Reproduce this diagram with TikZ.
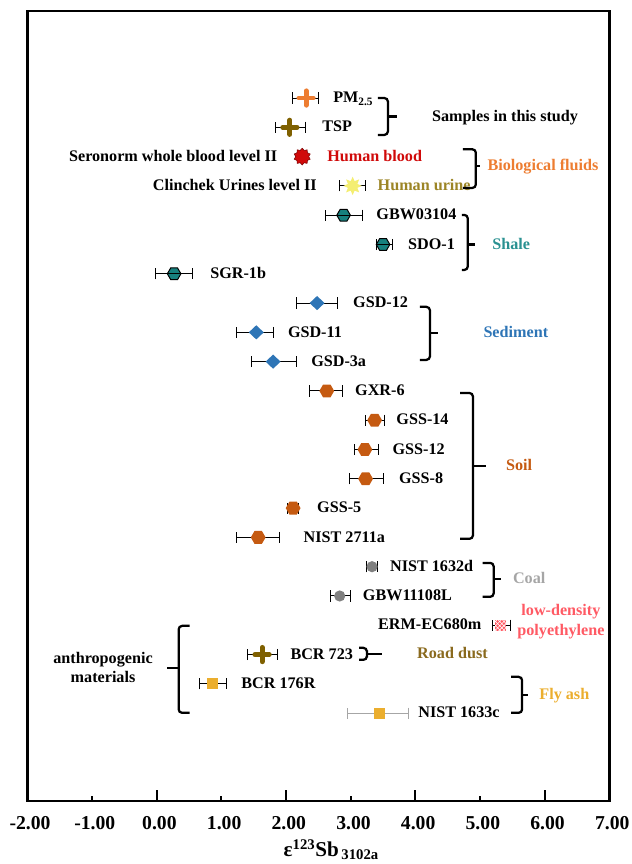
\documentclass[tikz,border=0pt]{standalone}
\usepackage{fontspec}
\setmainfont{Liberation Serif}
\usepackage{tikz}
\usetikzlibrary{arrows.meta,positioning,shapes.geometric,shapes.misc,patterns}
\usepackage{xcolor}

\definecolor{pmorange}{HTML}{ED7D31}
\definecolor{tspbrown}{HTML}{7F6000}
\definecolor{bloodred}{HTML}{D00A0A}
\definecolor{urineyellow}{HTML}{F4EE72}
\definecolor{urinetext}{HTML}{9C8526}
\definecolor{shaleteal}{HTML}{17807E}
\definecolor{shaletext}{HTML}{2A9191}
\definecolor{sedblue}{HTML}{2E75B6}
\definecolor{soilbrown}{HTML}{C55A11}
\definecolor{coalgray}{HTML}{808080}
\definecolor{coaltext}{HTML}{A6A6A6}
\definecolor{ldpered}{HTML}{FF5A64}
\definecolor{roadtext}{HTML}{8A6A1E}
\definecolor{flygold}{HTML}{EBAE2E}

\tikzset{
  errbar/.style={line width=0.7pt, arrows={Bar[width=0.28cm]-Bar[width=0.28cm]}},
  grpbrace/.style={line width=1.6pt, rounded corners=2.5pt},
  smplabel/.style={font=\bfseries\fontsize{11.5}{13.8}\selectfont, inner sep=0pt,
    text height=1.45ex, text depth=0pt},
  grplabel/.style={smplabel},
  twoline/.style={font=\bfseries\fontsize{11.5}{13.8}\selectfont, inner sep=0pt, align=center},
  ticklbl/.style={font=\bfseries\fontsize{14}{16}\selectfont, inner sep=0pt},
  % markers
  mkplus/.style={cross out, draw, rotate=45, minimum size=0.13cm, inner sep=0pt,
    line width=3.5pt, line cap=round},
  mkpm/.style={mkplus, draw=pmorange},
  mktsp/.style={mkplus, draw=tspbrown},
  mkblood/.style={star, star points=10, star point ratio=1.3, minimum size=0.42cm,
    inner sep=0pt, fill=bloodred, draw=bloodred!60!black, line width=0.4pt},
  mkurine/.style={star, star points=8, star point ratio=1.8, minimum size=0.46cm,
    inner sep=0pt, fill=urineyellow},
  mkshale/.style={regular polygon, regular polygon sides=6, minimum size=0.34cm,
    inner sep=0pt, fill=shaleteal, draw=black, line width=0.7pt,
    path picture={\draw[line width=0.7pt] (path picture bounding box.west) -- (path picture bounding box.east);}},
  mksed/.style={diamond, minimum width=0.38cm, minimum height=0.36cm, inner sep=0pt, fill=sedblue},
  mksoil/.style={regular polygon, regular polygon sides=6, minimum size=0.37cm,
    inner sep=0pt, fill=soilbrown},
  mkcoal/.style={circle, minimum size=0.28cm, inner sep=0pt, fill=coalgray},
  mkldpe/.style={rectangle, minimum size=0.28cm, inner sep=0pt, fill=ldpered,
    postaction={pattern=crosshatch, pattern color=white}},
  mkfly/.style={rectangle, minimum size=0.28cm, inner sep=0pt, fill=flygold}
}

% bar + marker of one sample: [bar opts]{name}{row}{low}{mean}{high}{marker}
\newcommand{\sampleRow}[7][]{%
  \coordinate (#2-lo) at (#4, #3);
  \coordinate (#2-hi) at (#6, #3);
  \draw[errbar, #1] (#2-lo) -- (#2-hi);
  \node[#7] (#2) at (#5, #3) {};%
}

% curly bracket of a group: {name}{arm end}{spine}{tip}{top}{bottom}{tip row}
\newcommand{\groupBrace}[7]{%
  \coordinate (#1-top) at (#2, #5);
  \coordinate (#1-bot) at (#2, #6);
  \coordinate (#1-mid) at (#3, #7);
  \coordinate (#1-tip) at (#4, #7);
  \draw[grpbrace] (#1-top) -| (#1-mid) |- (#1-bot);
  \draw[grpbrace] (#1-mid) -- (#1-tip);%
}

\begin{document}
\begin{tikzpicture}[x=1.6175cm, y=0.7325cm]
  \useasboundingbox (-2.422, 3.346) rectangle (7.346, -26.15);

  % Frame and x axis
  \draw[line width=1.8pt] (-2, 2.97) rectangle (7, -24);
  \foreach \x in {0, 2, 4, 6}
    \draw[line width=1.3pt] (\x, -24) -- (\x, -23.63);
  \foreach \x in {-1, 1, 3, 5}
    \draw[line width=1.3pt] (\x, -24) -- (\x, -23.83);
  \foreach \x/\t in {-2/-2.00, -1/-1.00, 0/0.00, 1/1.00, 2/2.00, 3/3.00, 4/4.00, 5/5.00, 6/6.00, 7/7.00}
    \node[ticklbl, anchor=base, xshift=0.07cm] (tick\x) at (\x, -24.98) {\t};
  \node[font=\bfseries\fontsize{15}{18}\selectfont, inner sep=0pt, anchor=base] (xtitle)
    at (2.70, -25.9) {ε\textsuperscript{123}Sb\textsubscript{\,3102a}};

  % Samples in this study
  \sampleRow{pm25}{0}{2.09}{2.31}{2.51}{mkpm}
  \sampleRow{tsp}{-1}{1.83}{2.06}{2.31}{mktsp}
  \node[smplabel, right=0.35cm of pm25-hi] (pm25-lbl) {PM\textsubscript{2.5}};
  \node[smplabel, right=0.4cm of tsp-hi] (tsp-lbl) {TSP};

  % Biological fluids
  \node[mkblood] (blood) at (2.25, -2) {};
  \node[smplabel, left=0.45cm of blood] (blood-lbl) {Seronorm whole blood level II};
  \node[smplabel, right=0.45cm of blood, text=bloodred] (blood-grp) {Human blood};
  \sampleRow{clinchek}{-3}{2.82}{3.03}{3.24}{mkurine}
  \node[smplabel, left=0.55cm of clinchek-lo] (clinchek-lbl) {Clinchek Urines level II};
  \node[smplabel, right=0.28cm of clinchek-hi, text=urinetext] (urine-grp) {Human urine};

  % Shale
  \sampleRow{gbw03104}{-4}{2.60}{2.89}{3.19}{mkshale}
  \sampleRow{sdo1}{-5}{3.39}{3.50}{3.65}{mkshale}
  \sampleRow{sgr1b}{-6}{-0.03}{0.27}{0.56}{mkshale}
  \node[smplabel, right=0.33cm of gbw03104-hi] (gbw03104-lbl) {GBW03104};
  \node[smplabel, right=0.38cm of sdo1-hi] (sdo1-lbl) {SDO-1};
  \node[smplabel, right=0.43cm of sgr1b-hi] (sgr1b-lbl) {SGR-1b};

  % Sediment
  \sampleRow{gsd12}{-7}{2.15}{2.48}{2.80}{mksed}
  \sampleRow{gsd11}{-8}{1.23}{1.54}{1.81}{mksed}
  \sampleRow{gsd3a}{-9}{1.46}{1.80}{2.17}{mksed}
  \node[smplabel, right=0.38cm of gsd12-hi] (gsd12-lbl) {GSD-12};
  \node[smplabel, right=0.35cm of gsd11-hi] (gsd11-lbl) {GSD-11};
  \node[smplabel, right=0.35cm of gsd3a-hi] (gsd3a-lbl) {GSD-3a};

  % Soil
  \sampleRow{gxr6}{-10}{2.36}{2.63}{2.88}{mksoil}
  \sampleRow{gss14}{-11}{3.22}{3.37}{3.53}{mksoil}
  \sampleRow{gss12}{-12}{3.05}{3.22}{3.44}{mksoil}
  \sampleRow{gss8}{-13}{2.97}{3.23}{3.51}{mksoil}
  \sampleRow{gss5}{-14}{2.02}{2.11}{2.20}{mksoil}
  \sampleRow{nist2711a}{-15}{1.23}{1.57}{1.91}{mksoil}
  \node[smplabel, right=0.3cm of gxr6-hi] (gxr6-lbl) {GXR-6};
  \node[smplabel, right=0.28cm of gss14-hi] (gss14-lbl) {GSS-14};
  \node[smplabel, right=0.33cm of gss12-hi] (gss12-lbl) {GSS-12};
  \node[smplabel, right=0.38cm of gss8-hi] (gss8-lbl) {GSS-8};
  \node[smplabel, right=0.45cm of gss5-hi] (gss5-lbl) {GSS-5};
  \node[smplabel, right=0.58cm of nist2711a-hi] (nist2711a-lbl) {NIST 2711a};

  % Coal
  \sampleRow{nist1632d}{-16}{3.24}{3.33}{3.42}{mkcoal}
  \sampleRow{gbw11108l}{-17}{2.68}{2.83}{3.00}{mkcoal}
  \node[smplabel, right=0.3cm of nist1632d-hi] (nist1632d-lbl) {NIST 1632d};
  \node[smplabel, right=0.3cm of gbw11108l-hi] (gbw11108l-lbl) {GBW11108L};

  % low-density polyethylene, road dust, fly ash
  \sampleRow{erm}{-18}{5.18}{5.32}{5.48}{mkldpe}
  \sampleRow{bcr723}{-19}{1.40}{1.63}{1.88}{mktsp}
  \sampleRow{bcr176r}{-20}{0.65}{0.86}{1.09}{mkfly}
  \sampleRow[draw=gray!70]{nist1633c}{-21}{2.94}{3.44}{3.90}{mkfly}
  \node[smplabel, left=0.25cm of erm-lo] (erm-lbl) {ERM-EC680m};
  \node[twoline, right=0.15cm of erm-hi, yshift=2.5pt, text=ldpered] (ldpe-grp)
    {low-density\\polyethylene};
  \node[smplabel, right=0.3cm of bcr723-hi] (bcr723-lbl) {BCR 723};
  \node[smplabel, right=0.35cm of bcr176r-hi] (bcr176r-lbl) {BCR 176R};
  \node[smplabel, right=0.23cm of nist1633c-hi] (nist1633c-lbl) {NIST 1633c};

  % Brackets and group names
  \groupBrace{study}{3.42}{3.575}{3.71}{0}{-1.26}{-0.63}
  \node[grplabel, right=0.88cm of study-tip] (study-grp) {Samples in this study};
  \groupBrace{bio}{4.735}{4.935}{5.0}{-1.75}{-3.07}{-2.32}
  \node[grplabel, right=0.18cm of bio-tip, text=pmorange] (bio-grp) {Biological fluids};
  \groupBrace{shale}{4.72}{4.81}{4.92}{-3.99}{-5.87}{-5.0}
  \node[grplabel, right=0.43cm of shale-tip, text=shaletext] (shale-grp) {Shale};
  \groupBrace{sed}{4.07}{4.225}{4.35}{-7.13}{-8.94}{-8.03}
  \node[grplabel, right=1.13cm of sed-tip, text=sedblue] (sed-grp) {Sediment};
  \groupBrace{soil}{4.69}{4.89}{5.09}{-10.07}{-15.05}{-12.56}
  \node[grplabel, right=0.5cm of soil-tip, text=soilbrown] (soil-grp) {Soil};
  \groupBrace{coal}{5.04}{5.21}{5.32}{-15.87}{-17.03}{-16.42}
  \node[grplabel, right=0.3cm of coal-tip, text=coaltext] (coal-grp) {Coal};
  \groupBrace{road}{3.13}{3.25}{3.48}{-18.77}{-19.18}{-18.98}
  \node[grplabel, right=0.88cm of road-tip, text=roadtext] (road-grp) {Road dust};
  \groupBrace{fly}{5.48}{5.65}{5.74}{-19.76}{-20.99}{-20.38}
  \node[grplabel, right=0.28cm of fly-tip, text=flygold] (fly-grp) {Fly ash};
  \groupBrace{anthro}{0.51}{0.34}{0.16}{-18.02}{-20.99}{-19.45}
  \node[twoline, left=0.35cm of anthro-tip] (anthro-grp) {anthropogenic\\materials};
\end{tikzpicture}
\end{document}
